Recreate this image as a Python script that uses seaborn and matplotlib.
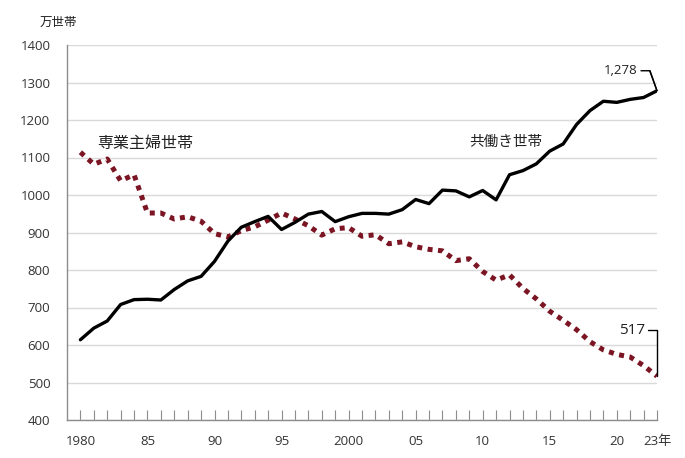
import numpy as np
import pandas as pd
import matplotlib
matplotlib.use('Agg')
import matplotlib.pyplot as plt
import seaborn as sns

# data (万世帯)
years = list(range(1980, 2024))
dual_income = [614, 645, 664, 708, 721, 722, 720, 748, 771, 783,
               823, 877, 914, 929, 943, 908, 927, 949, 956, 929,
               942, 951, 951, 949, 961, 988, 977, 1013, 1011, 995,
               1012, 987, 1054, 1065, 1083, 1117, 1136, 1188, 1225, 1250,
               1247, 1255, 1260, 1278]
housewife = [1114, 1082, 1096, 1038, 1054, 952, 952, 936, 942, 930,
             897, 888, 905, 915, 933, 952, 936, 918, 893, 910,
             913, 890, 894, 870, 875, 862, 855, 851, 825, 830,
             796, 773, 787, 751, 723, 690, 666, 641, 609, 587,
             575, 568, 545, 517]
tick_years = [1980, 1985, 1990, 1995, 2000, 2005, 2010, 2015, 2020, 2023]
tick_labels = ['1980', '85', '90', '95', '2000', '05', '10', '15', '20', '23年']

df = pd.DataFrame({'year': years, 'dual': dual_income, 'wife': housewife})

sns.set_style('white')
plt.rcParams['font.family'] = ['Open Sans', 'Noto Sans CJK JP', 'DejaVu Sans']

fig = plt.figure(figsize=(6.85, 4.58), dpi=100)
ax = fig.add_axes([67 / 685, 38 / 458, 590 / 685, 375 / 458])

sns.lineplot(data=df, x='year', y='wife', ax=ax, color='#7b1523', lw=3.6,
             linestyle=(0, (1, 1.1)), dash_capstyle='butt')
sns.lineplot(data=df, x='year', y='dual', ax=ax, color='black', lw=2.4)

ax.set_xlim(1979, 2023)
ax.set_ylim(400, 1400)
ax.set_yticks(range(400, 1401, 100))
ax.set_xticks(tick_years)
ax.set_xticklabels(tick_labels)
ax.set_xticks(years, minor=True)
ax.set_xlabel('')
ax.set_ylabel('')

ax.grid(axis='y', color='#d9d9d9', lw=1)
ax.set_axisbelow(True)
for s in ['top', 'right']:
    ax.spines[s].set_visible(False)
for s in ['left', 'bottom']:
    ax.spines[s].set_color('#8c8c8c')
    ax.spines[s].set_linewidth(1)

ax.tick_params(axis='y', left=False, length=0, pad=12, labelsize=9.5, labelcolor='#333333')
ax.tick_params(axis='x', which='both', bottom=True, direction='in', length=7, width=0.8,
               color='#8c8c8c', pad=11, labelsize=9.5, labelcolor='#333333')

# series labels
ax.text(1984.8, 1136, '専業主婦世帯', fontsize=11.5, ha='center', va='center', color='#222222')
ax.text(2011.7, 1141, '共働き世帯', fontsize=10.5, ha='center', va='center', color='#222222')

# end value callouts
last_dual = dual_income[-1]
last_wife = housewife[-1]
ax.annotate(f'{last_dual:,}', xy=(years[-1], last_dual), xytext=(-20, 20),
            textcoords='offset pixels', ha='right', va='center', fontsize=9.5, color='#222222')
ax.annotate('', xy=(years[-1], last_dual), xytext=(-7, 20), textcoords='offset pixels',
            arrowprops=dict(arrowstyle='-', color='black', lw=1, shrinkA=0, shrinkB=0))
ax.annotate('', xy=(years[-1], last_dual), xytext=(-16, 20), textcoords='offset pixels',
            arrowprops=dict(arrowstyle='-', color='black', lw=1, shrinkA=0, shrinkB=0,
                            connectionstyle='angle,angleA=0,angleB=110,rad=0'))

ax.annotate(f'{last_wife}', xy=(years[-1], last_wife), xytext=(-12, 46),
            textcoords='offset pixels', ha='right', va='center', fontsize=11, color='#222222')
ax.annotate('', xy=(years[-1], last_wife), xytext=(-9, 46), textcoords='offset pixels',
            arrowprops=dict(arrowstyle='-', color='black', lw=1, shrinkA=0, shrinkB=0,
                            connectionstyle='angle,angleA=0,angleB=90,rad=0'))

fig.text(58 / 685, 1 - 22 / 458, '万世帯', fontsize=9, ha='center', va='center', color='#222222')

fig.savefig('out.png', dpi=100)
